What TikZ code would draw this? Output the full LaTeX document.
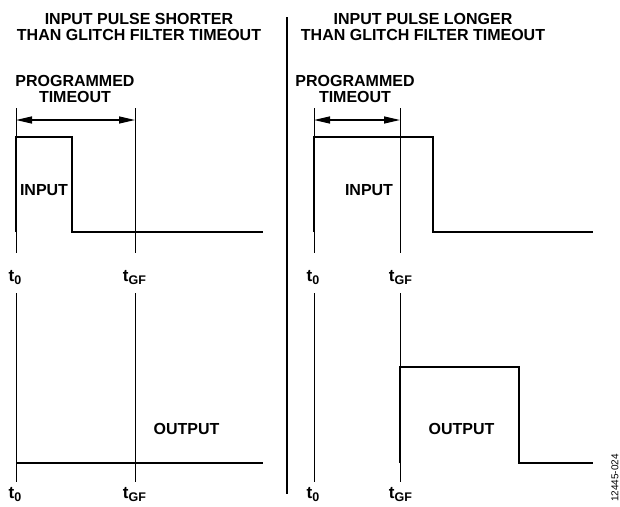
\documentclass[tikz,border=0pt]{standalone}
\usepackage{fontspec}
\setmainfont{Liberation Sans}
\usetikzlibrary{arrows.meta}
\newcommand{\tsub}[1]{\raisebox{-3.5pt}{\fontsize{12.5}{12.5}\selectfont #1}}
\tikzset{
  lbl/.style={font=\bfseries\fontsize{16}{16}\selectfont, align=center, inner sep=0pt},
  tlbl/.style={font=\bfseries\fontsize{17}{17}\selectfont, inner sep=0pt, anchor=base},
  sig/.style={line width=2.5pt, line join=miter},
  guide/.style={line width=0.9pt},
  span/.style={{Triangle[length=16pt,width=7pt]}-{Triangle[length=16pt,width=7pt]}, line width=1.3pt}
}
\begin{document}
\begin{tikzpicture}[x=1pt,y=-1pt]
            \useasboundingbox (0,0) rectangle (620,506);
            \node[lbl] (titleA) at (139,27) {INPUT PULSE SHORTER\\THAN GLITCH FILTER TIMEOUT};
            \node[lbl] (titleB) at (423,27) {INPUT PULSE LONGER\\THAN GLITCH FILTER TIMEOUT};
            \node[lbl] (progA) at (75,89) {PROGRAMMED\\TIMEOUT};
            \node[lbl] (progB) at (355,89) {PROGRAMMED\\TIMEOUT};
            \draw[line width=2.3pt] (287,17) -- (287,494);
            \foreach \x in {16,135,314,400} {
                \draw[guide] (\x,108) -- (\x,253);
                \draw[guide] (\x,293) -- (\x,482);
            }
            \draw[span] (16,120) -- (135,120);
            \draw[span] (314,120) -- (400,120);
            \draw[sig] (16,232) -- (16,137) -- (72,137) -- (72,232) -- (263,232);
            \draw[sig] (16,463) -- (263,463);
            \draw[sig] (314,232) -- (314,137) -- (433,137) -- (433,232) -- (593,232);
            \draw[sig] (400,463) -- (400,367) -- (519,367) -- (519,463) -- (593,463);
            \node[lbl] (inA) at (44,190) {INPUT};
            \node[lbl] (inB) at (369,190) {INPUT};
            \node[lbl] (outA) at (186.5,428.5) {OUTPUT};
            \node[lbl] (outB) at (461.5,428.5) {OUTPUT};
            \node[tlbl] (tA0) at (15,281) {t\tsub{0}};
            \node[tlbl] (tAG) at (134.5,281) {t\tsub{GF}};
            \node[tlbl] (tB0) at (313,281) {t\tsub{0}};
            \node[tlbl] (tBG) at (400.5,281) {t\tsub{GF}};
            \node[tlbl] (tC0) at (15,498) {t\tsub{0}};
            \node[tlbl] (tCG) at (134.5,498) {t\tsub{GF}};
            \node[tlbl] (tD0) at (313,498) {t\tsub{0}};
            \node[tlbl] (tDG) at (400.5,498) {t\tsub{GF}};
            \node[rotate=90, inner sep=0pt, font=\fontsize{10}{10}\selectfont] (fignum) at (615,478) {12445-024};
        \end{tikzpicture}
\end{document}
